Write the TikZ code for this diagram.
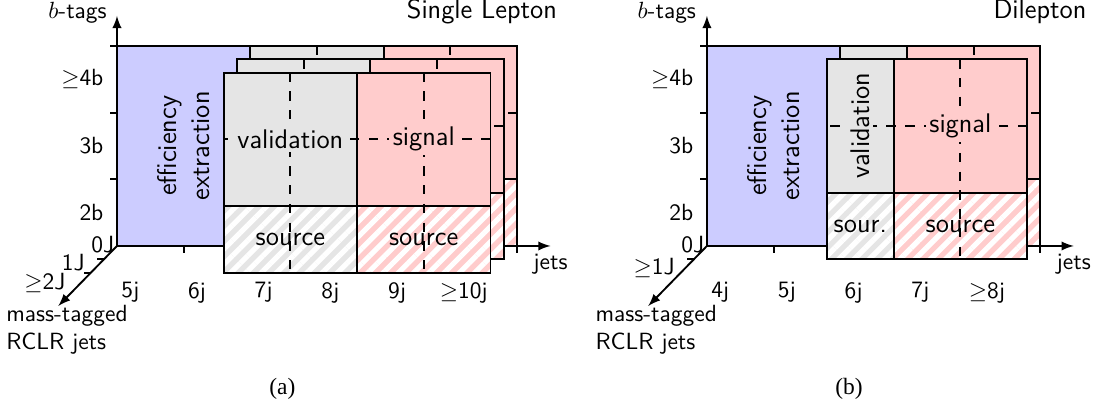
\documentclass[tikz,border=0pt]{standalone}
\usepackage{amsmath}
\usepackage{amssymb}
\usepackage{xcolor}
\usepackage{fontspec}
\newfontfamily\capfont{Liberation Serif}
\usetikzlibrary{patterns.meta}

\colorlet{effblue}{blue!20}
\colorlet{valgray}{gray!20}
\colorlet{sigred}{red!20}
\newcommand{\boxfont}{\sffamily\fontsize{11.5}{14}\selectfont}

\begin{document}
\begin{tikzpicture}[font=\sffamily, >=latex,
  box/.style={draw, thick},
  srcgray/.style={box, preaction={fill=valgray}, pattern={Lines[angle=45,distance=4.6pt,line width=2.2pt]}, pattern color=white},
  srcred/.style={box, preaction={fill=sigred}, pattern={Lines[angle=45,distance=4.6pt,line width=2.2pt]}, pattern color=white},
  axis/.style={thick},
  bin/.style={thick, dash pattern=on 4pt off 4pt},
  lbl/.style={font=\boxfont}]
  \useasboundingbox (-1.754,-2.489) rectangle (14.74,3.688);

  % (a) single lepton
  \coordinate (o) at (0,0);
  \coordinate (ytop) at (0,3.45);
  \coordinate (xend) at (6.5,0);
  \coordinate (jend) at (-0.88,-0.9);
  \draw [axis,->] (o)--(ytop);
  \draw [axis,->] (o)--(xend);
  \draw [axis,->] (o)--(jend);
  \foreach \y in {1,2,3} \draw [axis] (-0.1,\y)--(0,\y);
  \foreach \x in {1,...,6} \draw [axis] (\x,0)--(\x,-0.1);
  \foreach \s in {1,2} \draw [axis] (-0.2*\s,-0.2*\s)--++(-0.1,0);

  \node [anchor=east] (btag) at (-0.03,3.5) {$b$-tags};
  \node [anchor=east] (b4) at (-0.08,2.5) {$\geq$4b};
  \node [anchor=east] (b3) at (-0.08,1.5) {3b};
  \node [anchor=east] (b2) at (-0.08,0.5) {2b};
  \node [anchor=east, inner sep=1pt] (j0) at (0,0.02) {0J};
  \node [anchor=east] (j1) at (-0.36,-0.25) {1J};
  \node [anchor=east] (j2) at (-0.65,-0.55) {$\geq$2J};
  \node [align=left] (mt) at (-0.75,-1.26) {mass-tagged\\RCLR jets};
  \node (jets) at (6.5,-0.27) {jets};
  \node [lbl, anchor=west, inner sep=0pt] (ttl) at (4.34,3.51) {Single Lepton};

  \draw [box, fill=effblue] (0,0) rectangle (2,3);
  \node [lbl, rotate=90, align=center] (eff) at (1,1.5) {efficiency\\extraction};

  \foreach \s in {0,1,2}{
    \begin{scope}[shift={(-0.2*\s,-0.2*\s)}]
      \draw [box, fill=valgray] (2,1) rectangle (4,3);
      \draw [box, fill=sigred] (4,1) rectangle (6,3);
      \draw [srcgray] (2,0) rectangle (4,1);
      \draw [srcred] (4,0) rectangle (6,1);
      \draw [bin] (3,3)--(3,0) (5,3)--(5,0) (6,2)--(2,2);
    \end{scope}
  }
  \node [lbl, fill=valgray, inner sep=1.5pt] (val) at (2.6,1.6) {validation};
  \node [lbl, fill=sigred, inner sep=1.5pt] (sig) at (4.6,1.6) {signal};
  \node [lbl] (src) at (2.6,0.1) {source};
  \node [lbl] (srcb) at (4.6,0.1) {source};

  \node (c5) at (0.2,-0.7) {5j};
  \node (c6) at (1.2,-0.7) {6j};
  \node (c7) at (2.2,-0.7) {7j};
  \node (c8) at (3.2,-0.7) {8j};
  \node (c9) at (4.2,-0.7) {9j};
  \node (c10) at (5.2,-0.7) {$\geq$10j};
  \node [font=\capfont] (capa) at (2.48,-2.14) {(a)};

  % (b) dilepton
  \begin{scope}[shift={(8.846,0)}]
    \coordinate (p) at (0,0);
    \coordinate (ytopb) at (0,3.45);
    \coordinate (xendb) at (5.5,0);
    \coordinate (jendb) at (-0.88,-0.9);
    \draw [axis,->] (p)--(ytopb);
    \draw [axis,->] (p)--(xendb);
    \draw [axis,->] (p)--(jendb);
    \foreach \y in {1,2,3} \draw [axis] (-0.1,\y)--(0,\y);
    \foreach \x in {1,...,5} \draw [axis] (\x,0)--(\x,-0.1);
    \draw [axis] (-0.2,-0.2)--++(-0.1,0);

    \node [anchor=east] (btagb) at (-0.04,3.49) {$b$-tags};
    \node [anchor=east] (b4b) at (-0.08,2.5) {$\geq$4b};
    \node [anchor=east] (b3b) at (-0.08,1.5) {3b};
    \node [anchor=east] (b2b) at (-0.08,0.5) {2b};
    \node [anchor=east, inner sep=1pt] (j0b) at (0,0.02) {0J};
    \node [anchor=east] (j1b) at (-0.36,-0.33) {$\geq$1J};
    \node [align=left] (mtb) at (-0.76,-1.26) {mass-tagged\\RCLR jets};
    \node (jetsb) at (5.5,-0.27) {jets};
    \node [lbl, anchor=west, inner sep=0pt] (ttlb) at (4.29,3.51) {Dilepton};

    \draw [box, fill=effblue] (0,0) rectangle (2,3);
    \node [lbl, rotate=90, align=center] (effb) at (1,1.5) {efficiency\\extraction};

    \foreach \s in {0,1}{
      \begin{scope}[shift={(-0.2*\s,-0.2*\s)}]
        \draw [box, fill=valgray] (2,1) rectangle (3,3);
        \draw [box, fill=sigred] (3,1) rectangle (5,3);
        \draw [srcgray] (2,0) rectangle (3,1);
        \draw [srcred] (3,0) rectangle (5,1);
        \draw [bin] (4,3)--(4,0) (5,2)--(2,2);
      \end{scope}
    }
    \node [lbl, rotate=90, fill=valgray, inner sep=1.5pt] (valb) at (2.3,1.8) {validation};
    \node [lbl, fill=sigred, inner sep=1.5pt] (sigb) at (3.8,1.8) {signal};
    \node [lbl] (srcc) at (2.3,0.3) {sour.};
    \node [lbl] (srcd) at (3.8,0.3) {source};

    \node (d4) at (0.2,-0.7) {4j};
    \node (d5) at (1.2,-0.7) {5j};
    \node (d6) at (2.2,-0.7) {6j};
    \node (d7) at (3.2,-0.7) {7j};
    \node (d8) at (4.2,-0.7) {$\geq$8j};
    \node [font=\capfont] (capb) at (2.13,-2.14) {(b)};
  \end{scope}
\end{tikzpicture}
\end{document}
